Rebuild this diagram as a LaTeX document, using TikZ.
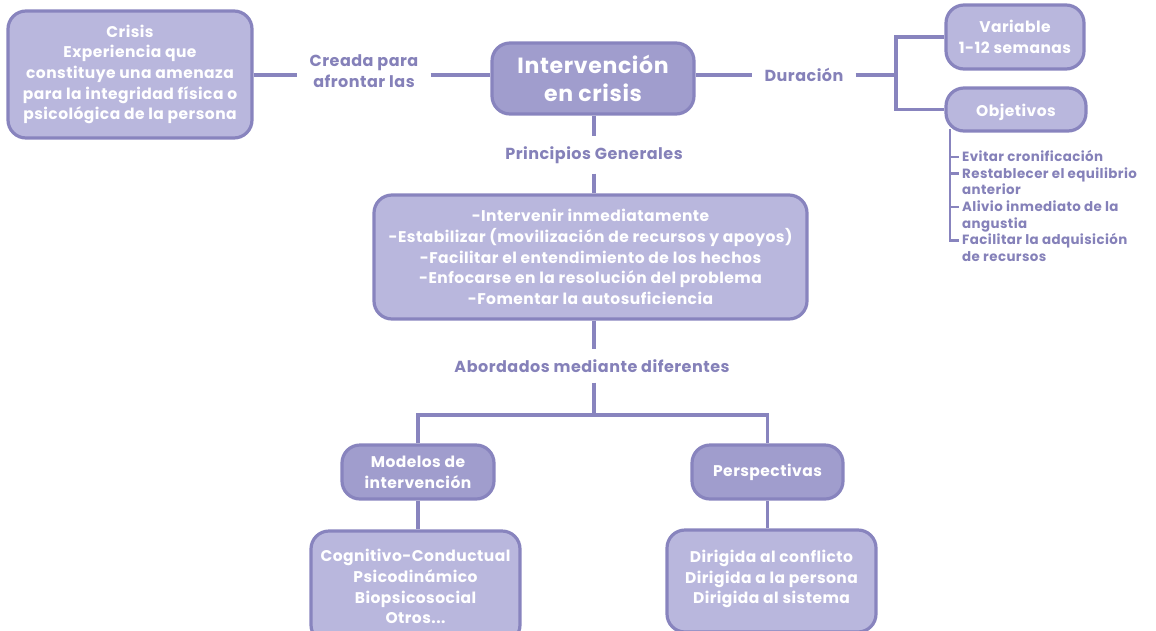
\documentclass[tikz,border=0pt]{standalone}
\usepackage{fontspec}
\setmainfont{Poppins}
\newfontfamily\wfont{Poppins}[LetterSpace=3]
\definecolor{lightfill}{HTML}{B9B7DD}
\definecolor{darkfill}{HTML}{A09DCD}
\definecolor{edgecol}{HTML}{8884BE}
\definecolor{lblcol}{HTML}{8581B9}
\begin{document}
\begin{tikzpicture}[x=1pt,y=-1pt,
 box/.style={draw=edgecol, line width=3.2pt, rounded corners=18pt, fill=lightfill, text=white,
   font=\wfont\bfseries\fontsize{15.5}{20.7}\selectfont, align=center, inner sep=0pt},
 dbox/.style={box, fill=darkfill},
 boxtext/.style={text=white, font=\wfont\bfseries\fontsize{15.5}{20.7}\selectfont, align=center, inner sep=0pt},
 lab/.style={text=lblcol, font=\wfont\bfseries\fontsize{16}{20.7}\selectfont, align=center, inner xsep=12pt, inner ysep=10pt},
 item/.style={text=lblcol, font=\wfont\bfseries\fontsize{13.4}{16.6}\selectfont, align=left, inner sep=0pt, anchor=base west},
 conn/.style={draw=edgecol, line width=3.2pt},
 tick/.style={draw=edgecol, line width=2.8pt},
]
\useasboundingbox (0,0) rectangle (1156,630);

\node[box, minimum width=244pt, minimum height=127pt] (crisis) at (130,74.5)
  {Crisis\\Experiencia que\\constituye una amenaza\\para la integridad física o\\psicológica de la persona};
\node[dbox, minimum width=202pt, minimum height=71pt, font=\wfont\bfseries\fontsize{22}{28}\selectfont] (inter) at (593,78.5)
  {Intervención\\en crisis};
\node[box, minimum width=138pt, minimum height=64pt] (variable) at (1015,37) {Variable\\1-12 semanas};
\node[box, minimum width=140pt, minimum height=43pt] (objetivos) at (1016,109.5) {\raisebox{-2.5pt}[\height][\depth]{Objetivos}};
\node[box, minimum width=433pt, minimum height=124pt] (princ) at (590.5,257)
  {-Intervenir inmediatamente\\-Estabilizar (movilización de recursos y apoyos)\\-Facilitar el entendimiento de los hechos\\-Enfocarse en la resolución del problema\\-Fomentar la autosuficiencia};
\node[dbox, minimum width=152pt, minimum height=54pt] (modelos) at (418,472) {Modelos de\\intervención};
\node[dbox, minimum width=151pt, minimum height=54pt] (persp) at (767.5,472) {Perspectivas};
\node[box, minimum width=209pt, minimum height=112pt] (cogn) at (415.5,587) {};
\node[boxtext] (cognt) at (415.5,586.5)
  {Cognitivo-Conductual\\Psicodinámico\\Biopsicosocial\\Otros...};
\node[box, minimum width=209pt, minimum height=102pt] (dirig) at (771.5,581) {};
\node[boxtext] (dirigt) at (771.5,579)
  {Dirigida al conflicto\\Dirigida a la persona\\Dirigida al sistema};

\node[lab] (creada) at (364,71) {Creada para\\afrontar las};
\node[lab] (dur) at (804,75) {Duración};
\node[lab] (pglab) at (594,155) {Principios Generales};
\node[lab] (abord) at (592,366) {Abordados mediante diferentes};

\node[item] (i1) at (962,161.5) {Evitar cronificación};
\node[item] (i2) at (962,194.7) {Restablecer el equilibrio\\anterior};
\node[item] (i3) at (962,228) {Alivio inmediato de la\\angustia};
\node[item] (i4) at (962,261.2) {Facilitar la adquisición\\de recursos};

\coordinate (dv) at (896,75);
\coordinate (br) at (594,415);
\coordinate (ot) at (950,129);

\draw[conn] (crisis.east |- dv) -- (creada.west |- dv);
\draw[conn] (creada.east |- dv) -- (inter.west |- dv);
\draw[conn] (inter.east |- dv) -- (dur.west |- dv);
\draw[conn] (dur.east |- dv) -- (dv);
\draw[conn] (variable.west) -| (dv) |- (objetivos.west);
\draw[conn] (inter.south -| br) -- (pglab.north -| br);
\draw[conn] (pglab.south -| br) -- (princ.north -| br);
\draw[conn] (princ.south -| br) -- (abord.north -| br);
\draw[conn] (abord.south -| br) -- (br);
\draw[conn] (modelos.north) |- (br) -| (persp.north);
\draw[conn] (modelos.south) -- (cogn.north -| modelos.south);
\draw[conn] (persp.south) -- (dirig.north -| persp.south);

\draw[tick] (ot) |- ([xshift=-3pt,yshift=21.1pt]i4.base west);
\draw[tick] (ot) |- ([xshift=-3pt,yshift=4.5pt]i1.base west);
\draw[tick] (ot) |- ([xshift=-3pt,yshift=21.1pt]i2.base west);
\draw[tick] (ot) |- ([xshift=-3pt,yshift=21.1pt]i3.base west);
\end{tikzpicture}
\end{document}
